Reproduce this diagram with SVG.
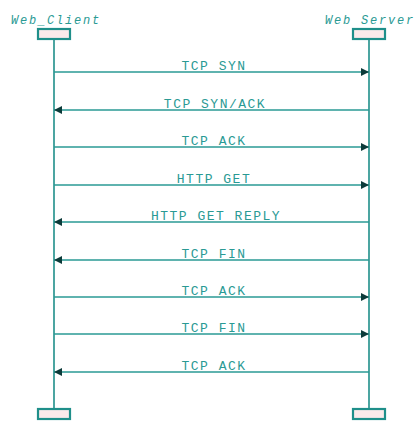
<svg xmlns="http://www.w3.org/2000/svg" width="415" height="421" viewBox="0 0 415 421">
<style>
.box{fill:#fbeaea;stroke:#1f8f8a;stroke-width:2.2}
.life{stroke:#1f8f8a;stroke-width:1.6;fill:none}
.msg{stroke:#2a9a94;stroke-width:1.6;fill:none}
.lbl{font-family:"Liberation Mono","Courier New",monospace;font-size:13px;letter-spacing:1.5px;fill:#2a9a94;text-anchor:middle}
.hdr{font-family:"Liberation Mono","Courier New",monospace;font-size:12px;font-style:italic;letter-spacing:1.8px;fill:#2a9a94}
</style>
<defs>
<marker id="ah" viewBox="0 0 10 10" refX="10" refY="5" markerWidth="8" markerHeight="8" markerUnits="userSpaceOnUse" orient="auto">
<path d="M0,0 L10,5 L0,10 z" fill="#0d3b3a"/>
</marker>
</defs>
<rect width="415" height="421" fill="#ffffff"/>
<g id="client">
<text class="hdr" x="11" y="24">Web_Client</text>
<line class="life" x1="54" y1="39" x2="54" y2="409"/>
<rect class="box" x="38" y="29" width="32" height="10"/>
<rect class="box" x="38" y="409" width="32" height="10"/>
</g>
<g id="server">
<text class="hdr" x="325" y="24">Web Server</text>
<line class="life" x1="369" y1="39" x2="369" y2="409"/>
<rect class="box" x="353" y="29" width="32" height="10"/>
<rect class="box" x="353" y="409" width="32" height="10"/>
</g>
<g id="connectors">
<line class="msg" x1="54" y1="72" x2="369" y2="72" marker-end="url(#ah)"/>
<line class="msg" x1="369" y1="110" x2="54" y2="110" marker-end="url(#ah)"/>
<line class="msg" x1="54" y1="147" x2="369" y2="147" marker-end="url(#ah)"/>
<line class="msg" x1="54" y1="185" x2="369" y2="185" marker-end="url(#ah)"/>
<line class="msg" x1="369" y1="222" x2="54" y2="222" marker-end="url(#ah)"/>
<line class="msg" x1="369" y1="260" x2="54" y2="260" marker-end="url(#ah)"/>
<line class="msg" x1="54" y1="297" x2="369" y2="297" marker-end="url(#ah)"/>
<line class="msg" x1="54" y1="334" x2="369" y2="334" marker-end="url(#ah)"/>
<line class="msg" x1="369" y1="372" x2="54" y2="372" marker-end="url(#ah)"/>
<text class="lbl" x="214" y="70">TCP SYN</text>
<text class="lbl" x="215" y="108">TCP SYN/ACK</text>
<text class="lbl" x="214" y="145">TCP ACK</text>
<text class="lbl" x="214" y="183">HTTP GET</text>
<text class="lbl" x="216" y="220">HTTP GET REPLY</text>
<text class="lbl" x="214" y="258">TCP FIN</text>
<text class="lbl" x="214" y="295">TCP ACK</text>
<text class="lbl" x="214" y="332">TCP FIN</text>
<text class="lbl" x="214" y="370">TCP ACK</text>
</g>
</svg>
